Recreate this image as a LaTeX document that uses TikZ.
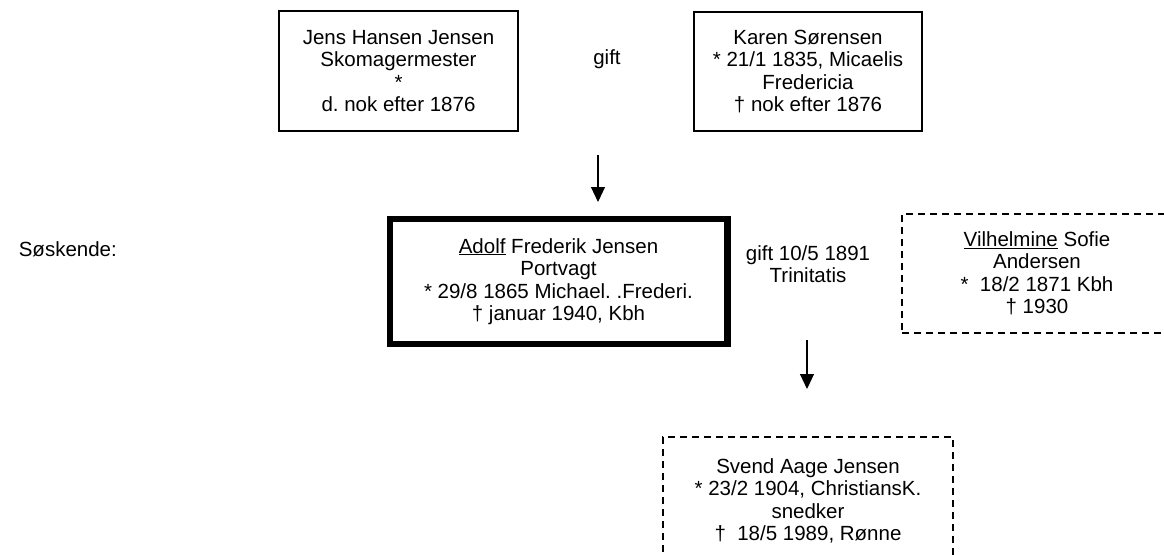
\documentclass[tikz,border=0pt]{standalone}
\usepackage{fontspec}
\setmainfont{Liberation Sans}
\usetikzlibrary{arrows.meta}
\frenchspacing
\begin{document}
\begin{tikzpicture}[x=1pt,y=-1pt,
  every node/.style={font=\fontsize{20.5}{22.5}\selectfont, align=center, inner sep=0pt},
  person/.style={draw, line width=1.1pt},
  mainperson/.style={draw, line width=6.5pt},
  otherperson/.style={draw, line width=1.3pt, dash pattern=on 7pt off 5pt},
  descent/.style={line width=1.1pt, -{Triangle[length=15pt,width=14pt]}}
]
\useasboundingbox (0,0) rectangle (1164,554);
\node[person, minimum width=239pt, minimum height=120pt] (jens) at (398.5,71)
  {Jens Hansen Jensen\\Skomagermester\\*\\d. nok efter 1876};
\node[person, minimum width=228pt, minimum height=119pt] (karen) at (808,71.5)
  {Karen Sørensen\\* 21/1 1835, Micaelis\\Fredericia\\† nok efter 1876};
\node (gift1) at (607,59) {gift};
\node[mainperson, minimum width=337.5pt, minimum height=125pt] (adolf) at (558.5,281.5)
  {\underline{Adolf} Frederik Jensen\\Portvagt\\* 29/8 1865 Michael. .Frederi.\\† januar 1940, Kbh};
\node (gift2) at (808,264) {gift 10/5 1891\\Trinitatis};
\node[otherperson, minimum width=270pt, minimum height=119pt] (vilh) at (1037,273.5)
  {\underline{Vilhelmine} Sofie\\Andersen\\*\ \ 18/2 1871 Kbh\\† 1930};
\node[otherperson, minimum width=290pt, minimum height=128pt] (svend) at (808,501)
  {Svend Aage Jensen\\* 23/2 1904, ChristiansK.\\snedker\\†\ \ 18/5 1989, Rønne};
\node[anchor=east] (sosk) at (117,249) {Søskende:};
\coordinate (a1s) at (598,155);
\coordinate (a1e) at (598,202);
\coordinate (a2s) at (807,340);
\coordinate (a2e) at (807,389);
\draw[descent] (a1s) -- (a1e);
\draw[descent] (a2s) -- (a2e);
\end{tikzpicture}
\end{document}
